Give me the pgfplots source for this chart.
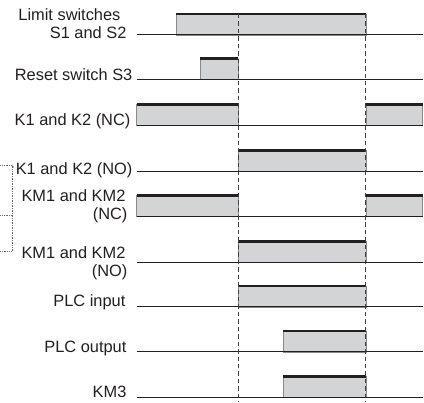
\documentclass[border=0pt]{standalone}
\usepackage{pgfplots}
\pgfplotsset{compat=1.18}
\usepackage{fontspec}
\setmainfont{Liberation Sans}

\definecolor{sigfill}{HTML}{D3D4D6}
\definecolor{sigedge}{HTML}{8A8A8A}
\definecolor{ink}{HTML}{231F20}

\pgfplotsset{
  pulse/.style={fill=sigfill, draw=sigedge, line width=0.6pt},
  toprail/.style={ink, line width=2.8pt},
  base/.style={ink, line width=1pt},
}
\tikzset{
  lbl/.style={anchor=base east, inner sep=0pt, text=ink, font=\fontsize{16.5}{18}\selectfont},
}

\begin{document}
\begin{tikzpicture}
\begin{axis}[
  scale only axis, width=424bp, height=403bp,
  xmin=0, xmax=424, ymin=0, ymax=403, y dir=reverse,
  hide axis, clip=false,
]
\path (axis cs:0,0) rectangle (axis cs:424,403);

% gray pulses (x from, x to; low / high level of each row)
\addplot[pulse] coordinates {(177,35) (177,14) (367,14) (367,35)} -- cycle;
\addplot[pulse] coordinates {(201,80) (201,59) (239,59) (239,80)} -- cycle;
\addplot[pulse] coordinates {(137,126) (137,105) (239,105) (239,126)} -- cycle;
\addplot[pulse] coordinates {(367,126) (367,105) (424,105) (424,126)} -- cycle;
\addplot[pulse] coordinates {(239,172) (239,151) (367,151) (367,172)} -- cycle;
\addplot[pulse] coordinates {(137,217) (137,196) (239,196) (239,217)} -- cycle;
\addplot[pulse] coordinates {(367,217) (367,196) (424,196) (424,217)} -- cycle;
\addplot[pulse] coordinates {(239,263) (239,242) (367,242) (367,263)} -- cycle;
\addplot[pulse] coordinates {(239,308) (239,287) (367,287) (367,308)} -- cycle;
\addplot[pulse] coordinates {(284,353) (284,332) (367,332) (367,353)} -- cycle;
\addplot[pulse] coordinates {(284,399) (284,378) (367,378) (367,399)} -- cycle;

% low level lines
\addplot[base] coordinates {(137,35) (424,35)};
\addplot[base] coordinates {(137,80) (424,80)};
\addplot[base] coordinates {(137,126) (424,126)};
\addplot[base] coordinates {(137,172) (424,172)};
\addplot[base] coordinates {(137,217) (424,217)};
\addplot[base] coordinates {(137,263) (424,263)};
\addplot[base] coordinates {(137,308) (424,308)};
\addplot[base] coordinates {(137,353) (424,353)};
\addplot[base] coordinates {(137,399) (424,399)};

% high level rails
\addplot[toprail] coordinates {(177,14) (367,14)};
\addplot[toprail] coordinates {(201,59) (239,59)};
\addplot[toprail] coordinates {(137,105) (239,105)};
\addplot[toprail] coordinates {(367,105) (424,105)};
\addplot[toprail] coordinates {(239,151) (367,151)};
\addplot[toprail] coordinates {(137,196) (239,196)};
\addplot[toprail] coordinates {(367,196) (424,196)};
\addplot[toprail] coordinates {(239,242) (367,242)};
\addplot[toprail] coordinates {(239,287) (367,287)};
\addplot[toprail] coordinates {(284,332) (367,332)};
\addplot[toprail] coordinates {(284,378) (367,378)};

% switching instants
\addplot[black!75, line width=0.8pt, dash pattern=on 4.5pt off 3pt] coordinates {(239,14) (239,403)};
\addplot[black!75, line width=0.8pt, dash pattern=on 4.5pt off 3pt] coordinates {(367,14) (367,403)};

% bracket at left
\addplot[black!60, line width=0.7pt, densely dotted] coordinates {(0.5,166) (12,166) (12,252) (0.5,252)};
\addplot[black!60, line width=0.7pt, densely dotted] coordinates {(0.5,216) (12,216)};
\addplot[black!60, line width=0.7pt] coordinates {(12,166) (14,168)};

% row labels
\node[lbl] at (axis cs:121,21) {Limit switches};
\node[lbl] at (axis cs:127,39) {S1 and S2};
\node[lbl] at (axis cs:133,81) {Reset switch S3};
\node[lbl] at (axis cs:131,126) {K1 and K2 (NC)};
\node[lbl] at (axis cs:133,175) {K1 and K2 (NO)};
\node[lbl] at (axis cs:126,202) {KM1 and KM2};
\node[lbl] at (axis cs:128,220) {(NC)};
\node[lbl] at (axis cs:126,259) {KM1 and KM2};
\node[lbl] at (axis cs:128,277) {(NO)};
\node[lbl] at (axis cs:126,308) {PLC input};
\node[lbl] at (axis cs:127,354) {PLC output};
\node[lbl] at (axis cs:127,399) {KM3};
\end{axis}
\end{tikzpicture}
\end{document}
